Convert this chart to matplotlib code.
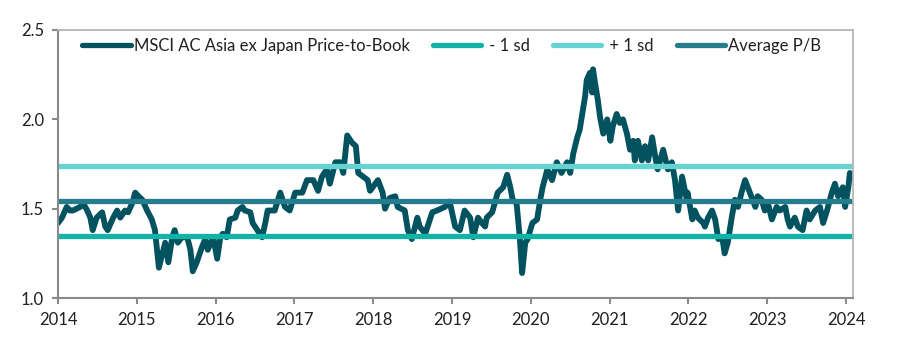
import numpy as np
import matplotlib.pyplot as plt

# MSCI AC Asia ex Japan P/B
years = [2014.00, 2014.05, 2014.11, 2014.15, 2014.19, 2014.28, 2014.32, 2014.37, 2014.41, 2014.44,
         2014.49, 2014.56, 2014.60, 2014.63, 2014.70, 2014.75, 2014.79, 2014.85, 2014.89, 2014.94,
         2014.98, 2015.02, 2015.07, 2015.13, 2015.19, 2015.23, 2015.28, 2015.36, 2015.40, 2015.45,
         2015.48, 2015.52, 2015.57, 2015.64, 2015.68, 2015.71, 2015.76, 2015.83, 2015.87, 2015.90,
         2015.97, 2016.02, 2016.06, 2016.09, 2016.14, 2016.18, 2016.25, 2016.28, 2016.34, 2016.37,
         2016.44, 2016.47, 2016.53, 2016.59, 2016.63, 2016.66, 2016.75, 2016.82, 2016.88, 2016.94,
         2017.01, 2017.10, 2017.16, 2017.24, 2017.30, 2017.35, 2017.41, 2017.45, 2017.52, 2017.58,
         2017.62, 2017.67, 2017.73, 2017.78, 2017.81, 2017.93, 2017.96, 2018.06, 2018.12, 2018.15,
         2018.21, 2018.28, 2018.31, 2018.40, 2018.44, 2018.49, 2018.56, 2018.59, 2018.66, 2018.75,
         2018.81, 2018.91, 2018.97, 2019.04, 2019.10, 2019.16, 2019.23, 2019.27, 2019.33, 2019.38,
         2019.42, 2019.44, 2019.51, 2019.58, 2019.65, 2019.70, 2019.74, 2019.77, 2019.82, 2019.86,
         2019.89, 2019.93, 2019.96, 2020.02, 2020.08, 2020.12, 2020.15, 2020.21, 2020.27, 2020.33,
         2020.39, 2020.46, 2020.50, 2020.54, 2020.59, 2020.62, 2020.66, 2020.69, 2020.71, 2020.75,
         2020.78, 2020.79, 2020.81, 2020.85, 2020.88, 2020.92, 2020.97, 2021.01, 2021.04, 2021.09,
         2021.13, 2021.17, 2021.22, 2021.26, 2021.30, 2021.32, 2021.36, 2021.41, 2021.45, 2021.49,
         2021.54, 2021.58, 2021.61, 2021.68, 2021.74, 2021.79, 2021.83, 2021.87, 2021.92, 2021.98,
         2021.99, 2022.05, 2022.08, 2022.12, 2022.19, 2022.21, 2022.25, 2022.30, 2022.34, 2022.38,
         2022.43, 2022.46, 2022.50, 2022.55, 2022.59, 2022.63, 2022.68, 2022.72, 2022.78, 2022.85,
         2022.88, 2022.93, 2022.97, 2023.01, 2023.06, 2023.12, 2023.16, 2023.23, 2023.26, 2023.29,
         2023.35, 2023.39, 2023.45, 2023.50, 2023.54, 2023.61, 2023.67, 2023.71, 2023.76, 2023.82,
         2023.86, 2023.90, 2023.96, 2023.99, 2024.03, 2024.05, 2024.08]
pb = [1.42, 1.45, 1.51, 1.49, 1.49, 1.51, 1.53, 1.49, 1.45, 1.38,
      1.45, 1.48, 1.40, 1.38, 1.45, 1.49, 1.45, 1.49, 1.48, 1.53,
      1.59, 1.57, 1.55, 1.49, 1.44, 1.38, 1.17, 1.31, 1.20, 1.34,
      1.38, 1.31, 1.34, 1.34, 1.27, 1.15, 1.20, 1.29, 1.33, 1.27,
      1.34, 1.22, 1.34, 1.36, 1.34, 1.44, 1.45, 1.49, 1.51, 1.49,
      1.48, 1.42, 1.38, 1.34, 1.42, 1.49, 1.49, 1.59, 1.51, 1.49,
      1.59, 1.59, 1.66, 1.66, 1.60, 1.68, 1.72, 1.64, 1.76, 1.76,
      1.70, 1.91, 1.87, 1.85, 1.70, 1.66, 1.60, 1.66, 1.59, 1.50,
      1.56, 1.57, 1.51, 1.49, 1.38, 1.33, 1.45, 1.40, 1.36, 1.48,
      1.49, 1.51, 1.54, 1.40, 1.38, 1.49, 1.45, 1.34, 1.45, 1.42,
      1.40, 1.45, 1.48, 1.59, 1.62, 1.69, 1.62, 1.55, 1.53, 1.34,
      1.14, 1.31, 1.33, 1.42, 1.44, 1.55, 1.62, 1.72, 1.66, 1.76,
      1.70, 1.76, 1.70, 1.81, 1.90, 1.94, 2.05, 2.13, 2.22, 2.26,
      2.15, 2.28, 2.22, 2.11, 2.01, 1.92, 2.00, 1.88, 1.96, 2.03,
      1.98, 2.00, 1.92, 1.83, 1.88, 1.77, 1.88, 1.77, 1.85, 1.77,
      1.90, 1.79, 1.72, 1.83, 1.72, 1.76, 1.66, 1.49, 1.68, 1.55,
      1.59, 1.44, 1.49, 1.45, 1.42, 1.40, 1.45, 1.49, 1.44, 1.33,
      1.34, 1.25, 1.31, 1.45, 1.55, 1.51, 1.60, 1.66, 1.59, 1.51,
      1.57, 1.55, 1.49, 1.53, 1.44, 1.51, 1.49, 1.51, 1.44, 1.40,
      1.45, 1.40, 1.38, 1.49, 1.44, 1.49, 1.51, 1.42, 1.49, 1.59,
      1.64, 1.57, 1.62, 1.51, 1.62, 1.70, 1.68]

minus_sd = 1.35
plus_sd = 1.74
avg_pb = 1.545

x_ticks = [2014, 2015, 2016, 2017, 2018, 2019, 2020, 2021, 2022, 2023, 2024]
y_ticks = [1.0, 1.5, 2.0, 2.5]

plt.rcParams['font.family'] = ['Lato', 'DejaVu Sans']

fig = plt.figure(figsize=(8.97, 3.6), dpi=100)
ax = fig.add_axes([0.0647, 0.172, 0.8863, 0.7447])

ax.plot(years, pb, color='#02535f', lw=4.2, solid_capstyle='round', solid_joinstyle='round',
        label='MSCI AC Asia ex Japan Price-to-Book')
ax.axhline(minus_sd, color='#13b2a6', lw=3.8, label=' - 1 sd')
ax.axhline(plus_sd, color='#66d3d3', lw=3.8, label=' + 1 sd')
ax.axhline(avg_pb, color='#247c8d', lw=3.8, label='Average P/B')

ax.set_xlim(2014, 2024.09)
ax.set_ylim(1.0, 2.5)
ax.set_xticks(x_ticks)
ax.set_yticks(y_ticks)
ax.set_yticklabels([f'{v:.1f}' for v in y_ticks])

for side in ['left', 'bottom']:
    ax.spines[side].set_color('#8a8a8a')
    ax.spines[side].set_linewidth(1.5)
for side in ['top', 'right']:
    ax.spines[side].set_color('#b5b5b5')
    ax.spines[side].set_linewidth(1.3)
ax.tick_params(axis='both', direction='out', length=4, width=1.5, color='#8a8a8a',
               labelsize=12, labelcolor='#231f20', pad=6)

leg = ax.legend(loc='upper left', bbox_to_anchor=(0.02, 1.0), ncol=4, frameon=False,
                fontsize=12, handlelength=2.9, handletextpad=0.2, columnspacing=1.4,
                borderaxespad=0.3, borderpad=0.2)
for line in leg.get_lines():
    line.set_solid_capstyle('round')
    line.set_linewidth(3.8)
for t in leg.get_texts():
    t.set_color('#231f20')

fig.savefig('out.png', dpi=100)
